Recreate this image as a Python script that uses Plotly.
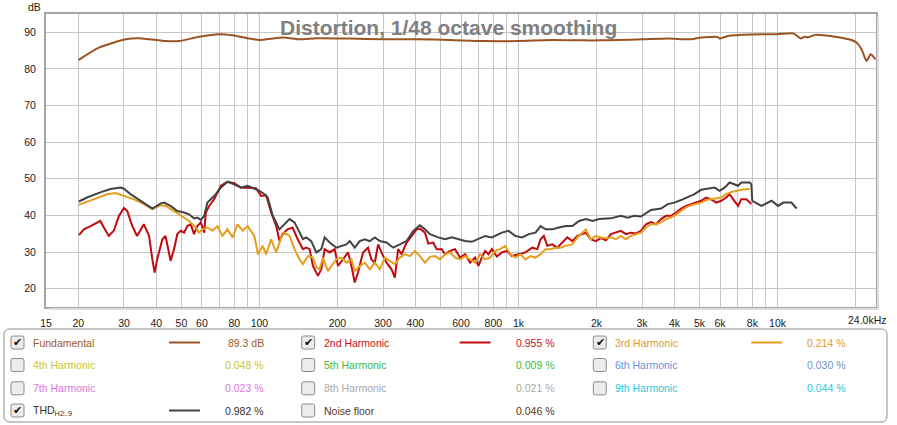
import math
import plotly.graph_objects as go

# ---------------- data (Hz, dB) ----------------
fund_freq = [20.0, 24.0, 30.5, 34.3, 43.6, 49.0, 58.5, 70.0, 78.6, 91.5,
             100, 123, 143, 166, 223, 300, 406, 544, 732, 991,
             1331, 1786, 2079, 2405, 3035, 3771, 4640, 5073, 5887, 5975,
             6439, 7925, 9937, 11490, 12010, 12290, 12690, 13080, 13920, 16620,
             19300, 20180, 21100, 22060, 22900, 23900]
fund_db = [82.4, 85.8, 88.1, 88.4, 87.6, 87.6, 88.8, 89.5, 89.2, 88.3,
           87.9, 88.6, 88.1, 88.4, 88.3, 88.1, 88.1, 87.9, 87.6, 87.6,
           87.9, 87.8, 87.8, 87.9, 88.1, 88.3, 88.1, 88.6, 88.7, 88.3,
           89.0, 89.4, 89.5, 89.7, 88.8, 88.3, 88.8, 88.6, 89.3, 88.8,
           87.9, 87.2, 85.4, 82.2, 84.0, 82.6]

h2_freq = [20.1, 21.0, 22.3, 24.3, 25.1, 26.2, 27.4, 28.7, 30.0, 30.9,
           32.3, 33.7, 35.8, 37.5, 38.6, 39.4, 40.3, 42.2, 43.4, 45.4,
           46.8, 48.2, 49.7, 51.2, 52.7, 54.3, 55.9, 57.6, 59.4, 61.2,
           62.1, 64.0, 66.9, 71.0, 75.3, 79.9, 84.8, 90.0, 97.1, 101.5,
           106.1, 111.0, 116.1, 119.5, 122.8, 128.4, 134.3, 140.5, 147.2, 151.6,
           156.2, 160.9, 168.2, 173.4, 178.6, 186.7, 195.2, 201.1, 210.3, 219.9,
           226.6, 233.3, 240.2, 251.1, 262.5, 270.5, 278.9, 287.1, 295.9, 309.5,
           323.6, 333.3, 343.1, 353.7, 369.9, 386.8, 404.4, 416.6, 435.6, 448.6,
           469.0, 483.4, 505.4, 520.6, 544.3, 569.1, 595.1, 622.2, 650.6, 680.3,
           700.6, 722, 743.7, 766, 789.3, 825.4, 863, 902.3, 943.5, 1003,
           1064, 1130, 1182, 1217, 1253, 1292, 1351, 1412, 1477, 1544,
           1615, 1688, 1765, 1819, 1902, 1988, 2079, 2174, 2273, 2377,
           2485, 2599, 2717, 2841, 2971, 3106, 3248, 3396, 3551, 3713,
           3882, 4059, 4244, 4438, 4640, 4852, 5073, 5305, 5547, 5800,
           6064, 6341, 6534, 6746, 7042, 7249, 7579, 7925]
h2_db = [34.6, 36.2, 37.1, 38.5, 36.7, 34.4, 35.8, 39.9, 42.0, 41.2,
         37.1, 34.4, 37.6, 34.4, 28.0, 24.4, 28.0, 33.5, 34.4, 27.6,
         30.8, 34.9, 35.8, 35.3, 37.1, 37.6, 34.9, 37.1, 38.1, 35.3,
         40.8, 42.6, 44.4, 48.1, 49.2, 48.8, 47.6, 47.6, 47.4, 45.3,
         45.5, 40.8, 37.1, 33.0, 34.9, 36.2, 36.7, 33.5, 30.8, 31.2,
         30.8, 26.2, 23.5, 25.3, 30.8, 29.9, 30.8, 26.2, 28.0, 29.9,
         26.2, 21.7, 24.4, 29.9, 31.2, 28.0, 27.1, 32.1, 29.9, 27.1,
         25.3, 23.0, 30.8, 29.4, 32.6, 34.4, 36.2, 36.4, 35.3, 32.3,
         32.6, 30.8, 30.8, 29.4, 30.3, 30.8, 28.5, 29.4, 27.1, 28.5,
         26.2, 28.5, 30.3, 29.4, 30.8, 28.8, 29.9, 30.3, 28.9, 29.4,
         29.9, 31.2, 30.8, 33.5, 34.4, 31.7, 32.1, 31.2, 32.6, 34.0,
         33.0, 34.4, 34.9, 35.3, 33.5, 33.0, 33.8, 33.2, 34.9, 35.3,
         35.8, 34.9, 35.3, 35.1, 35.8, 37.6, 38.2, 37.6, 39.0, 39.9,
         39.9, 40.8, 41.9, 42.6, 43.1, 43.5, 44.0, 44.9, 44.4, 43.5,
         44.0, 44.9, 45.8, 44.4, 42.6, 44.4, 44.4, 43.1]

h3_freq = [20.1, 21.6, 23.6, 25.8, 27.8, 30.0, 32.8, 35.8, 38.6, 41.6,
           43.5, 46.8, 49.7, 53.5, 56.8, 58.5, 60.3, 63.0, 65.9, 68.9,
           72.0, 75.3, 78.8, 82.4, 86.1, 90.0, 95.6, 98.7, 103.0, 106.1,
           111.0, 116.1, 121.4, 125.0, 130.7, 136.6, 142.9, 147.2, 154.0, 160.9,
           165.8, 170.8, 175.9, 183.9, 189.6, 198.1, 207.2, 216.6, 226.6, 233.3,
           244.0, 255.1, 266.7, 278.9, 291.6, 304.9, 318.8, 333.3, 348.5, 364.4,
           381.0, 398.4, 416.6, 435.6, 455.4, 476.2, 497.9, 520.6, 544.3, 569.1,
           595.1, 622.2, 650.6, 680.3, 711.3, 743.7, 777.6, 813.1, 850.2, 888.9,
           929.5, 973.6, 1018, 1064, 1113, 1164, 1217, 1273, 1331, 1391,
           1455, 1521, 1615, 1688, 1765, 1819, 1902, 1988, 2079, 2174,
           2273, 2377, 2485, 2599, 2717, 2841, 2971, 3106, 3248, 3396,
           3551, 3713, 3882, 4059, 4244, 4438, 4640, 4852, 5073, 5305,
           5547, 5800, 6064, 6341, 6630, 6932, 7249, 7808]
h3_db = [42.9, 43.7, 44.6, 45.8, 46.1, 45.3, 44.4, 43.1, 41.7, 42.8,
         42.6, 41.2, 39.9, 38.5, 36.7, 35.3, 36.2, 36.7, 35.8, 37.1,
         34.4, 36.2, 34.0, 37.6, 35.8, 37.1, 34.4, 29.4, 31.7, 29.4,
         33.5, 29.9, 34.0, 35.3, 34.4, 30.8, 28.0, 26.7, 28.9, 28.5,
         25.8, 25.3, 28.5, 24.8, 26.2, 28.0, 28.5, 27.1, 28.0, 24.8,
         26.2, 27.1, 25.3, 27.1, 25.3, 28.5, 27.6, 26.7, 28.5, 29.4,
         28.9, 30.3, 28.9, 27.1, 28.7, 28.9, 28.0, 29.4, 29.9, 28.5,
         28.0, 28.9, 28.0, 27.1, 29.4, 28.0, 28.5, 30.3, 30.8, 31.7,
         29.4, 28.5, 29.4, 28.0, 28.9, 28.5, 29.4, 30.8, 30.8, 31.2,
         31.2, 31.7, 32.1, 34.0, 35.3, 36.2, 33.5, 34.4, 34.0, 33.8,
         34.0, 33.5, 34.4, 33.5, 34.4, 34.9, 35.3, 36.7, 37.6, 37.6,
         38.1, 39.0, 39.4, 40.3, 41.2, 42.2, 42.8, 43.1, 43.5, 44.2,
         44.4, 44.6, 44.9, 45.8, 46.4, 46.7, 47.0, 47.2]

thd_freq = [20.1, 21.6, 24.3, 26.6, 29.1, 30.0, 31.8, 34.8, 38.6, 41.6,
            42.8, 45.4, 48.2, 51.2, 53.5, 55.9, 57.6, 59.4, 61.2, 63.0,
            66.9, 71.0, 75.3, 79.9, 84.8, 90.0, 95.6, 100, 104.6, 107.6,
            112.6, 119.5, 126.9, 130.7, 136.6, 142.9, 147.2, 151.6, 158.5, 165.8,
            173.4, 178.6, 186.7, 198.1, 207.2, 216.6, 223.2, 233.3, 244.0, 255.1,
            266.7, 278.9, 291.6, 309.5, 328.4, 348.5, 369.9, 392.4, 416.6, 435.6,
            455.4, 490.5, 520.6, 552.5, 586.2, 622.2, 660.4, 700.6, 743.7, 789.3,
            863, 915.6, 973.6, 1033, 1096, 1164, 1217, 1273, 1351, 1433,
            1521, 1615, 1713, 1819, 1931, 2048, 2174, 2273, 2485, 2638,
            2798, 2971, 3248, 3551, 3771, 3999, 4244, 4507, 4781, 5073,
            5387, 5715, 5975, 6248, 6534, 6831, 7042, 7249, 7808, 7925,
            7990, 8665, 9473, 10060, 10520, 11320, 11840]
thd_db = [43.8, 44.9, 46.3, 47.2, 47.6, 47.3, 45.8, 44.0, 41.9, 43.3,
          43.5, 42.6, 41.2, 40.8, 40.3, 39.2, 39.4, 38.8, 39.9, 43.5,
          45.3, 47.6, 49.2, 48.5, 47.6, 48.1, 47.2, 46.7, 45.8, 44.9,
          39.9, 36.2, 38.1, 39.0, 38.1, 35.3, 33.5, 34.0, 33.0, 29.9,
          30.8, 34.0, 32.6, 31.2, 31.7, 32.1, 33.0, 31.2, 33.0, 33.5,
          33.0, 34.0, 33.0, 32.6, 31.2, 32.1, 33.0, 35.8, 37.3, 36.2,
          34.9, 34.0, 33.5, 34.0, 33.5, 33.0, 32.8, 33.5, 34.4, 34.0,
          35.3, 35.8, 34.4, 34.0, 34.9, 35.3, 37.1, 36.2, 36.2, 36.7,
          37.1, 37.1, 38.5, 39.0, 38.5, 39.0, 39.2, 39.2, 39.9, 39.4,
          39.9, 39.7, 41.5, 41.9, 43.1, 43.5, 44.2, 44.9, 45.8, 47.0,
          47.2, 47.6, 46.7, 47.6, 49.0, 48.5, 48.1, 49.0, 49.0, 48.5,
          44.0, 42.6, 44.0, 42.6, 43.5, 43.5, 41.9]

for a, b in [(fund_freq, fund_db), (h2_freq, h2_db), (h3_freq, h3_db), (thd_freq, thd_db)]:
    assert len(a) == len(b), (len(a), len(b))

# axis ticks
x_tick_vals = [15, 20, 30, 40, 50, 60, 80, 100, 200, 300, 400, 600, 800,
               1000, 2000, 3000, 4000, 5000, 6000, 8000, 10000]
x_tick_text = ["15", "20", "30", "40", "50", "60", "80", "100", "200", "300", "400", "600", "800",
               "1k", "2k", "3k", "4k", "5k", "6k", "8k", "10k"]
x_minor_grid = [70, 90, 500, 700, 900, 7000, 9000, 20000]
x_major = [100, 1000, 10000]
y_ticks = [20, 30, 40, 50, 60, 70, 80, 90]

# legend panel content
leg_names = ["Fundamental", "2nd Harmonic", "3rd Harmonic",
             "4th Harmonic", "5th Harmonic", "6th Harmonic",
             "7th Harmonic", "8th Harmonic", "9th Harmonic",
             "THD<sub>H2..9</sub>", "Noise floor"]
leg_values = ["89.3 dB", "0.955 %", "0.214 %",
              "0.048 %", "0.009 %", "0.030 %",
              "0.023 %", "0.021 %", "0.044 %",
              "0.982 %", "0.046 %"]
leg_checked = [True, True, True, False, False, False, False, False, False, True, False]
leg_text_colors = ["#9a5a28", "#c8101a", "#e09a22",
                   "#c8c43a", "#3cb83c", "#6a92d4",
                   "#d878dc", "#a8a8a8", "#28c8d8",
                   "#303030", "#5c3414"]

col_fund = "#9a5424"
col_h2 = "#c00a10"
col_h3 = "#e69e1e"
col_thd = "#424242"
leg_line_colors = [col_fund, col_h2, col_h3, None, None, None, None, None, None, col_thd, None]

# ---------------- figure ----------------
W, H = 897, 425
L, R, T, B = 46, 876, 14, 307


def px(x):
    return (x - L) / (R - L)


def py(y):
    return (B - y) / (B - T)


fig = go.Figure()
fig.add_trace(go.Scatter(x=fund_freq, y=fund_db, mode="lines",
                         line=dict(color=col_fund, width=2, shape="spline", smoothing=0.6),
                         hoverinfo="skip"))
fig.add_trace(go.Scatter(x=h2_freq, y=h2_db, mode="lines",
                         line=dict(color=col_h2, width=2), hoverinfo="skip"))
fig.add_trace(go.Scatter(x=h3_freq, y=h3_db, mode="lines",
                         line=dict(color=col_h3, width=2), hoverinfo="skip"))
fig.add_trace(go.Scatter(x=thd_freq, y=thd_db, mode="lines",
                         line=dict(color=col_thd, width=2), hoverinfo="skip"))

font_family = "Liberation Sans, Arial, sans-serif"

fig.update_xaxes(type="log", range=[math.log10(15), math.log10(24000)],
                 tickmode="array", tickvals=x_tick_vals, ticktext=x_tick_text,
                 showgrid=True, gridcolor="#c6c6c6", gridwidth=1,
                 minor=dict(tickmode="array", tickvals=x_minor_grid, showgrid=True,
                            gridcolor="#c6c6c6", gridwidth=1, ticks=""),
                 showline=True, linecolor="#a6a6a6", linewidth=2, mirror=True,
                 ticks="", ticklabelstandoff=5, zeroline=False,
                 tickfont=dict(size=10.5, color="#1a1a1a", family=font_family))
fig.update_yaxes(range=[15, 95], tickmode="array", tickvals=y_ticks,
                 showgrid=True, gridcolor="#c6c6c6", gridwidth=1,
                 showline=True, linecolor="#a6a6a6", linewidth=2, mirror=True,
                 ticks="", ticklabelstandoff=6, zeroline=False,
                 tickfont=dict(size=10.5, color="#1a1a1a", family=font_family))

shapes = []
for v in x_major:
    shapes.append(dict(type="line", xref="x", yref="paper", x0=v, x1=v, y0=0, y1=1,
                       line=dict(color="#8a8a8a", width=1), layer="between"))

annotations = [
    dict(text="<b>Distortion, 1/48 octave smoothing</b>", x=px(448), y=py(27),
         xref="paper", yref="paper", showarrow=False, xanchor="center", yanchor="middle",
         font=dict(size=21, color="#808080", family=font_family)),
    dict(text="dB", x=px(34), y=py(7), xref="paper", yref="paper", showarrow=False,
         xanchor="center", yanchor="middle",
         font=dict(size=10.5, color="#1a1a1a", family=font_family)),
    dict(text="24.0kHz", x=px(867), y=py(320), xref="paper", yref="paper", showarrow=False,
         xanchor="center", yanchor="middle",
         font=dict(size=10.5, color="#1a1a1a", family=font_family)),
]


def rounded_rect(x0, y0, x1, y1, r):
    # pixel box -> paper path with rounded corners
    rx = r / (R - L)
    ry = r / (B - T)
    X0, X1 = px(x0), px(x1)
    Y0, Y1 = py(y0), py(y1)  # Y0 top, Y1 bottom
    return (f"M {X0 + rx},{Y0} L {X1 - rx},{Y0} Q {X1},{Y0} {X1},{Y0 - ry} "
            f"L {X1},{Y1 + ry} Q {X1},{Y1} {X1 - rx},{Y1} "
            f"L {X0 + rx},{Y1} Q {X0},{Y1} {X0},{Y1 + ry} "
            f"L {X0},{Y0 - ry} Q {X0},{Y0} {X0 + rx},{Y0} Z")


# soft shadow on the right / bottom of the plot frame
shapes.append(dict(type="line", xref="paper", yref="paper", x0=px(R + 2), x1=px(R + 2),
                   y0=py(B + 2), y1=py(T + 3), line=dict(color="#dcdcdc", width=2), layer="above"))
shapes.append(dict(type="line", xref="paper", yref="paper", x0=px(L + 3), x1=px(R + 2),
                   y0=py(B + 2), y1=py(B + 2), line=dict(color="#dcdcdc", width=2), layer="above"))

# legend panel frame
shapes.append(dict(type="path", xref="paper", yref="paper",
                   path=rounded_rect(4, 329, 887, 422, 6),
                   line=dict(color="#8c8c8c", width=1), fillcolor="white", layer="above"))

col_x = [11, 301.7, 593.3]
row_y = [342.5, 365, 388.3, 410.5]
for i, name in enumerate(leg_names):
    r, c = divmod(i, 3)
    cx, cy = col_x[c], row_y[r]
    shapes.append(dict(type="path", xref="paper", yref="paper",
                       path=rounded_rect(cx, cy - 6.5, cx + 13, cy + 6.5, 2),
                       line=dict(color="#8a8a8a", width=1), fillcolor="#ececec", layer="above"))
    if leg_checked[i]:
        annotations.append(dict(text="✔", x=px(cx + 6.8), y=py(cy - 0.5), xref="paper", yref="paper",
                                showarrow=False, xanchor="center", yanchor="middle",
                                font=dict(size=11, color="#111111", family="DejaVu Sans")))
    annotations.append(dict(text=name, x=px(cx + 20), y=py(cy), xref="paper", yref="paper",
                            showarrow=False, xanchor="left", yanchor="middle",
                            font=dict(size=10.5, color=leg_text_colors[i], family=font_family)))
    annotations.append(dict(text=leg_values[i], x=px(cx + 255), y=py(cy), xref="paper", yref="paper",
                            showarrow=False, xanchor="right", yanchor="middle",
                            font=dict(size=10.5, color=leg_text_colors[i], family=font_family)))
    if leg_line_colors[i]:
        shapes.append(dict(type="line", xref="paper", yref="paper",
                           x0=px(cx + 158), x1=px(cx + 189), y0=py(cy), y1=py(cy),
                           line=dict(color=leg_line_colors[i], width=2), layer="above"))

fig.update_layout(width=W, height=H, margin=dict(l=L, r=W - R, t=T, b=H - B, pad=0),
                  paper_bgcolor="white", plot_bgcolor="white", showlegend=False,
                  font=dict(family=font_family), shapes=shapes, annotations=annotations)

fig.write_html("out.html", config={"displayModeBar": False},
               post_script="document.body.style.margin='0';")
